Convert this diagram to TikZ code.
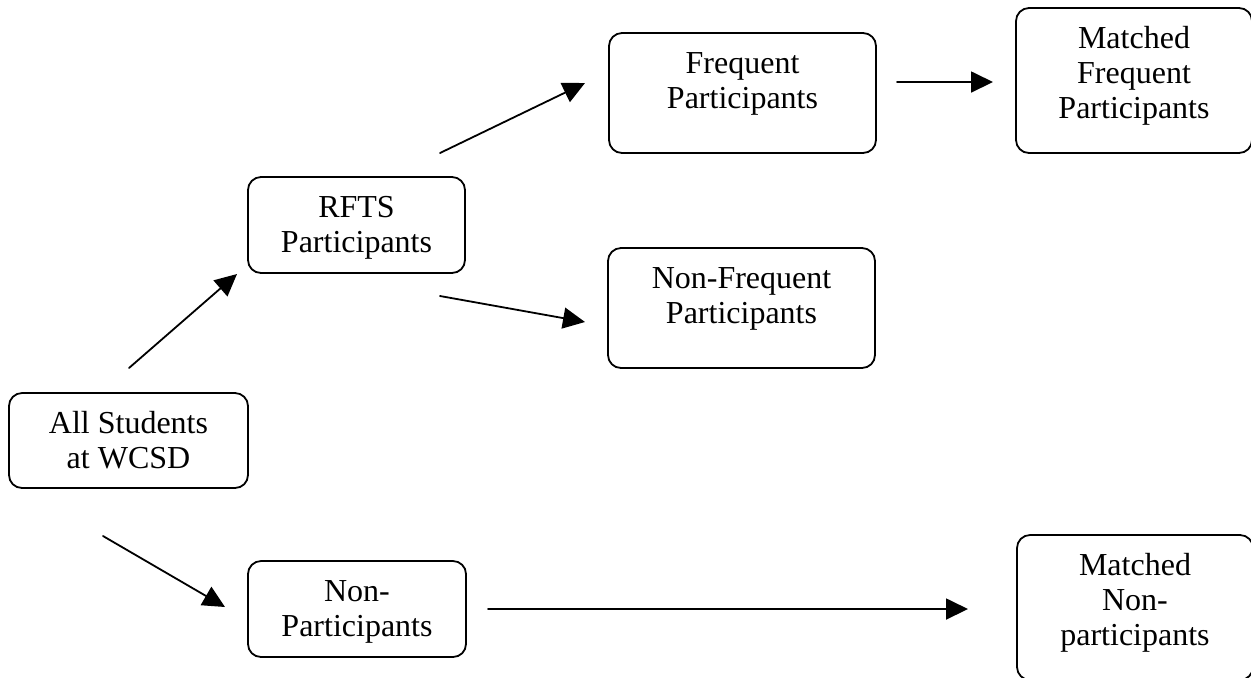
\documentclass[tikz,border=0pt]{standalone}
\usepackage{fontspec}
\setmainfont{Liberation Serif}
\usetikzlibrary{arrows.meta}

\begin{document}
\begin{tikzpicture}[x=0.5pt, y=-0.5pt, line join=round, line cap=round,
		>={Triangle[length=11pt,width=10.5pt]},
		font=\fontsize{16}{17.5}\selectfont,
		box/.style={draw, line width=0.9pt, rounded corners=6.5pt, anchor=north west, outer sep=0pt,
			align=center, inner xsep=0pt, inner ysep=9pt},
		flow/.style={->, line width=0.9pt}]
	\useasboundingbox (0,0) rectangle (1251,677);
	% groups
	\node[box, minimum width=119.5pt, text height=28.5pt, text depth=1pt] (all) at (9,393) {All Students\\at WCSD};
	\node[box, minimum width=108.5pt, text height=28.5pt, text depth=1.5pt] (rfts) at (248,177) {RFTS\\Participants};
	\node[box, minimum width=109pt, text height=28.5pt, text depth=1.5pt] (nonpart) at (248,561) {Non-\\Participants};
	\node[box, minimum width=133.5pt, text height=28.5pt, text depth=13.5pt] (freq) at (609,33) {Frequent\\Participants};
	\node[box, minimum width=133.5pt, text height=28.5pt, text depth=13.5pt] (nonfreq) at (608,248) {Non-Frequent\\Participants};
	\node[box, minimum width=118pt, text height=46pt, text depth=8.5pt] (mfreq) at (1016,8) {Matched\\Frequent\\Participants};
	\node[box, minimum width=118pt, text height=46pt, text depth=8.5pt] (mnon) at (1017,535) {Matched\\Non-\\participants};
	% arrows
	\draw[flow] ([shift={(0.5,-25)}]all.north) -- ([shift={(-11,1)}]rfts.south west);
	\draw[flow] ([shift={(-25.5,48)}]all.south) -- ([shift={(-23,-2)}]nonpart.west);
	\draw[flow] ([shift={(-25,-24)}]rfts.north east) -- ([shift={(-24,-10)}]freq.west);
	\draw[flow] ([shift={(-25,23)}]rfts.south east) -- ([shift={(-23,14)}]nonfreq.west);
	\draw[flow] ([shift={(21,-11)}]freq.east) -- ([shift={(-23,1.5)}]mfreq.west);
	\draw[flow] ([shift={(22,0)}]nonpart.east) -- ([shift={(-49,1.5)}]mnon.west);
\end{tikzpicture}
\end{document}
